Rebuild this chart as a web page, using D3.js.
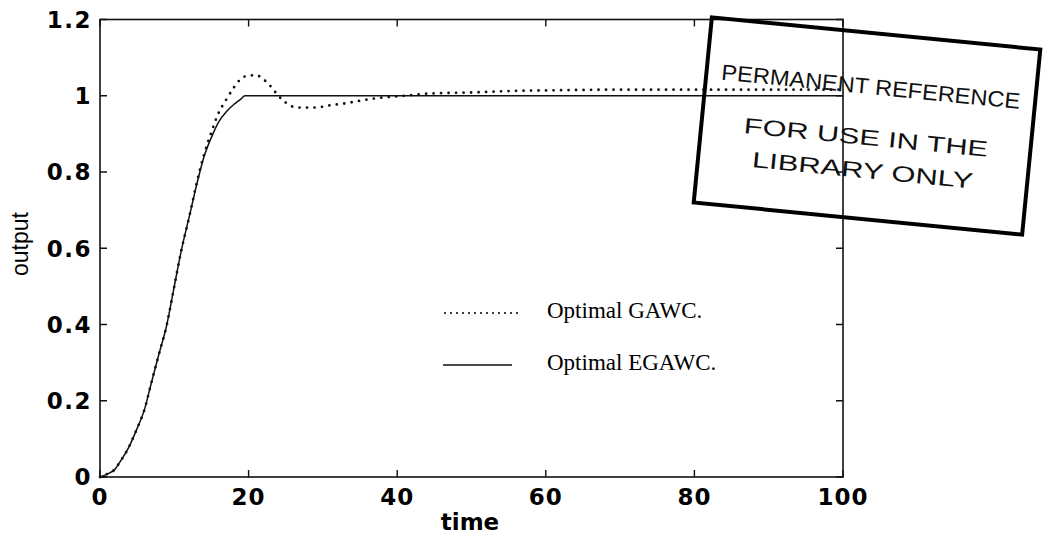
<!DOCTYPE html>
<html>
<head>
<meta charset="utf-8">
<script src="https://cdn.jsdelivr.net/npm/d3@7"></script>
<style>
  body { margin: 0; background: #fff; }
  svg { display: block; }
</style>
</head>
<body>
<svg id="chart" width="1050" height="536"></svg>
<script>
// values
const timeEGAWC = [0, 1, 2, 2.7, 3.8, 4.9, 6, 6.9, 7.9, 9, 9.9, 10.9, 12.1, 13, 14, 15.2, 16, 17, 18, 19, 19.5, 40, 60, 80, 100];
const outEGAWC  = [0, 0.008, 0.02, 0.04, 0.075, 0.123, 0.178, 0.246, 0.32, 0.40, 0.49, 0.59, 0.69, 0.766, 0.84, 0.90, 0.932, 0.958, 0.977, 0.992, 1.0, 1.0, 1.0, 1.0, 1.0];

const timeGAWC = [0, 1, 2, 2.7, 3.8, 4.9, 6, 6.9, 7.9, 9, 9.9, 10.9, 12.1, 13, 14, 15, 15.9, 17, 18, 18.9, 20, 21, 22, 23, 24, 25, 26, 27, 29, 31, 33, 35, 37, 39, 41, 43, 46, 49, 52, 56, 60, 70, 80, 90, 100];
const outGAWC  = [0, 0.008, 0.02, 0.04, 0.075, 0.123, 0.178, 0.246, 0.32, 0.40, 0.49, 0.59, 0.69, 0.77, 0.845, 0.905, 0.952, 0.99, 1.021, 1.043, 1.053, 1.054, 1.043, 1.024, 1.0, 0.982, 0.971, 0.969, 0.969, 0.975, 0.98, 0.987, 0.993, 0.997, 1.0, 1.004, 1.007, 1.008, 1.01, 1.013, 1.014, 1.016, 1.016, 1.016, 1.016];

const xTicks = [0, 20, 40, 60, 80, 100];
const yTicks = [0, 0.2, 0.4, 0.6, 0.8, 1, 1.2];

const legendLabels = ["Optimal GAWC.", "Optimal EGAWC."];
const stampLines = ["PERMANENT REFERENCE", "FOR USE IN THE", "LIBRARY ONLY"];

const svg = d3.select("#chart");
const pLeft = 100, pRight = 843, pTop = 19.5, pBottom = 477;

const x = d3.scaleLinear().domain([0, 100]).range([pLeft, pRight]);
const y = d3.scaleLinear().domain([0, 1.2]).range([pBottom, pTop]);

const tickFont = "'DejaVu Sans', sans-serif";

// frame
svg.append("rect")
  .attr("x", pLeft).attr("y", pTop)
  .attr("width", pRight - pLeft).attr("height", pBottom - pTop)
  .style("fill", "none").style("stroke", "#111").style("stroke-width", 1.6);

// inward ticks all round, matlab style
let tickLen = 7;
svg.selectAll(".xt").data(xTicks).enter().append("path")
  .attr("d", d => `M${x(d)},${pBottom}V${pBottom - tickLen}M${x(d)},${pTop}V${pTop + tickLen}`)
  .style("stroke", "#111").style("stroke-width", 1.4);
svg.selectAll(".yt").data(yTicks).enter().append("path")
  .attr("d", d => `M${pLeft},${y(d)}H${pLeft + tickLen}M${pRight},${y(d)}H${pRight - tickLen}`)
  .style("stroke", "#111").style("stroke-width", 1.4);

svg.selectAll(".xl").data(xTicks).enter().append("text")
  .attr("x", d => x(d)).attr("y", 505)
  .attr("text-anchor", "middle")
  .style("font-family", tickFont).style("font-weight", "bold").style("font-size", "23px")
  .style("letter-spacing", "1px")
  .text(d => d);

svg.selectAll(".yl").data(yTicks).enter().append("text")
  .attr("x", 92).attr("y", d => y(d))
  .attr("dy", "0.36em")
  .attr("text-anchor", "end")
  .style("font-family", tickFont).style("font-weight", "bold").style("font-size", "23px")
  .style("letter-spacing", "1.5px")
  .text(d => d3.format("~g")(d));

svg.append("text")
  .attr("x", 470).attr("y", 530)
  .attr("text-anchor", "middle")
  .style("font-family", tickFont).style("font-weight", "bold").style("font-size", "23px")
  .text("time");

svg.append("text")
  .attr("transform", "translate(28,244) rotate(-90)")
  .attr("text-anchor", "middle")
  .style("font-family", "'Liberation Sans', sans-serif").style("font-size", "23px")
  .text("output");

// curves
let line = d3.line().x(d => x(d[0])).y(d => y(d[1])).curve(d3.curveMonotoneX);

svg.append("path")
  .datum(d3.zip(timeEGAWC, outEGAWC))
  .attr("d", line)
  .style("fill", "none").style("stroke", "#111").style("stroke-width", 1.5);

svg.append("path")
  .datum(d3.zip(timeGAWC, outGAWC))
  .attr("d", line)
  .style("fill", "none").style("stroke", "#111").style("stroke-width", 2.8)
  .style("stroke-linecap", "round")
  .style("stroke-dasharray", "0,7.5");

// legend
svg.append("line")
  .attr("x1", 445).attr("x2", 523).attr("y1", 313).attr("y2", 313)
  .style("stroke", "#111").style("stroke-width", 2.2)
  .style("stroke-linecap", "round").style("stroke-dasharray", "0,6");
svg.append("line")
  .attr("x1", 443).attr("x2", 512).attr("y1", 365).attr("y2", 365)
  .style("stroke", "#111").style("stroke-width", 1.5);

svg.selectAll(".lg").data(legendLabels).enter().append("text")
  .attr("x", 547).attr("y", (d, i) => i === 0 ? 318 : 370)
  .style("font-family", "'Liberation Serif', serif").style("font-size", "23px")
  .text(d => d);

// library stamp over the top right corner
let stamp = svg.append("g").attr("transform", "translate(867,126) rotate(5.6)");
stamp.append("rect")
  .attr("x", -165).attr("y", -93).attr("width", 330).attr("height", 186)
  .style("fill", "none").style("stroke", "#000").style("stroke-width", 4);
let stampY = [-32, 19, 52];
let stampW = [300, 245, 222];
stamp.selectAll(".st").data(stampLines).enter().append("text")
  .attr("x", 0).attr("y", (d, i) => stampY[i])
  .attr("text-anchor", "middle")
  .attr("textLength", (d, i) => stampW[i])
  .attr("lengthAdjust", "spacingAndGlyphs")
  .style("font-family", "'Liberation Sans', sans-serif").style("font-size", "22px")
  .style("fill", "#111")
  .text(d => d);
</script>
</body>
</html>
